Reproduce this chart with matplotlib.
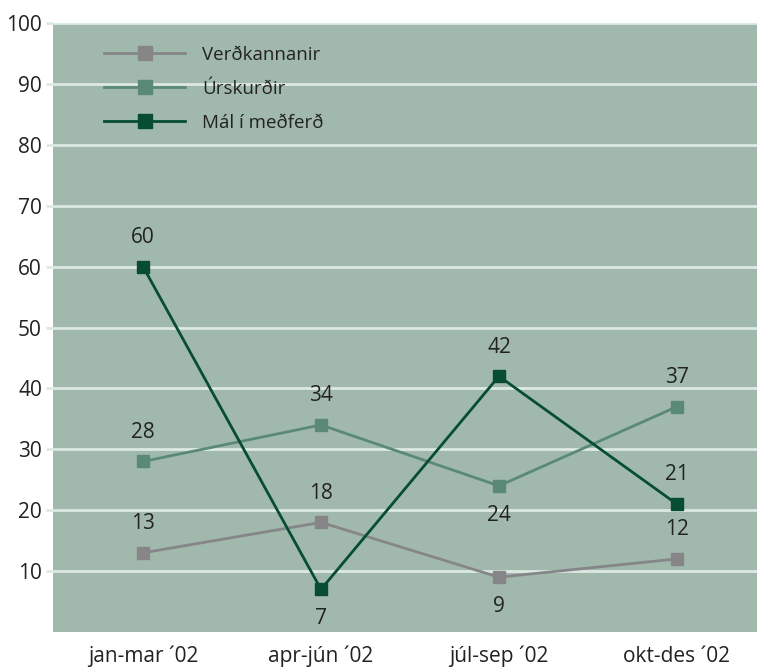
import matplotlib.pyplot as plt

# quarters and series
quarters = ['jan-mar \u00b402', 'apr-j\u00fan \u00b402', 'j\u00fal-sep \u00b402', 'okt-des \u00b402']
verdkannanir = [13, 18, 9, 12]
urskurdir = [28, 34, 24, 37]
mal_i_medferd = [60, 7, 42, 21]

# label above (+1) or below (-1) the point
pos_verd = [1, 1, -1, 1]
pos_ursk = [1, 1, -1, 1]
pos_mal = [1, -1, 1, 1]

plt.rcParams['font.family'] = ['Open Sans', 'DejaVu Sans']

fig = plt.figure(figsize=(7.57, 6.69), dpi=100)
ax = fig.add_axes([0.070, 0.0553, 0.930, 0.9103])
ax.set_facecolor('#a1b9ad')

x = list(range(len(quarters)))
series = [
    ('Ver\u00f0kannanir', verdkannanir, pos_verd, '#868688'),
    ('\u00darskur\u00f0ir', urskurdir, pos_ursk, '#5a8a76'),
    ('M\u00e1l \u00ed me\u00f0fer\u00f0', mal_i_medferd, pos_mal, '#064d33'),
]
for name, vals, pos, col in series:
    ax.plot(x, vals, color=col, lw=2, marker='s', ms=8, label=name, zorder=3)
    for xi, v, p in zip(x, vals, pos):
        ax.annotate(str(v), (xi, v), xytext=(0, 21 * p), textcoords='offset points',
                    ha='center', va='center', fontsize=15, color='#222222')

ax.set_xlim(-0.506, 3.45)
ax.set_ylim(0, 100)
ax.set_yticks(range(10, 101, 10))
ax.set_xticks(x)
ax.set_xticklabels(quarters, fontsize=15, color='#222222')
ax.tick_params(axis='y', labelsize=15, labelcolor='#222222', color='#dde9e3',
               length=5, width=2, pad=3)
ax.tick_params(axis='x', length=0, pad=10)
ax.grid(axis='y', color='#dde9e3', lw=2, zorder=1)
ax.set_axisbelow(True)
for s in ax.spines.values():
    s.set_visible(False)

leg = ax.legend(loc='upper left', bbox_to_anchor=(0.049, 0.99), frameon=False,
                fontsize=13.5, handlelength=4.3, handletextpad=0.9, labelspacing=0.85,
                markerscale=1.2)
for t in leg.get_texts():
    t.set_color('#222222')

fig.savefig('out.png', dpi=100)
